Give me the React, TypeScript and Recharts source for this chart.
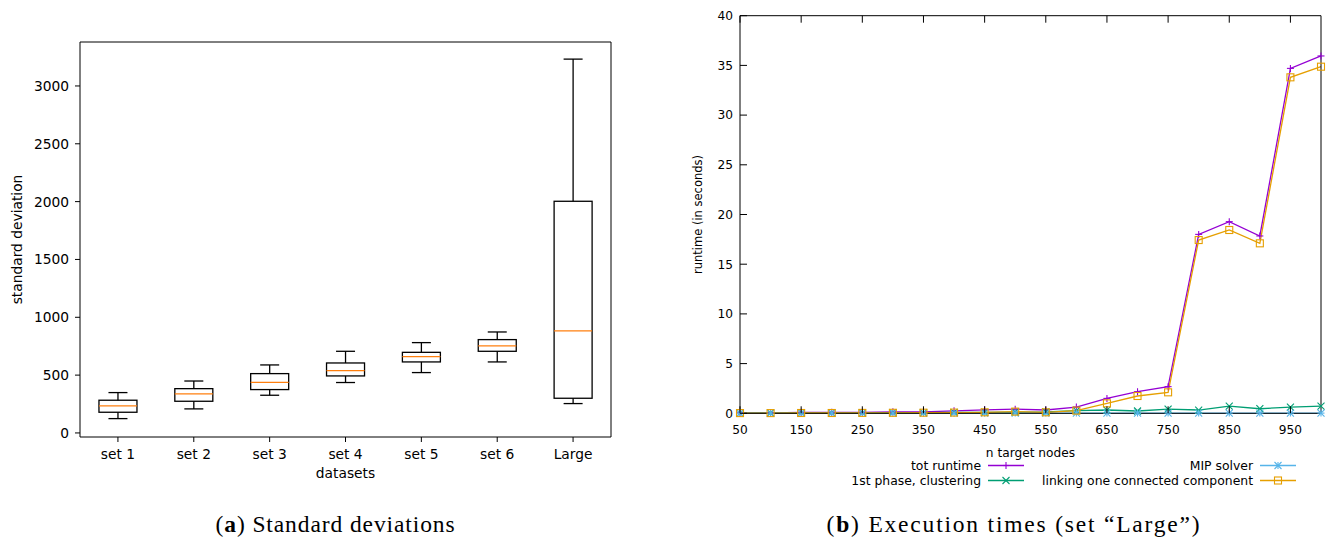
import React from "react";
import { ComposedChart, Bar, XAxis, YAxis, LineChart, Line, Legend } from "recharts";

// (a) standard deviations per dataset, box plot statistics
const datasets = ["set 1", "set 2", "set 3", "set 4", "set 5", "set 6", "Large"];
const whiskerLow = [124, 208, 326, 436, 522, 614, 254];
const quartile1 = [179, 274, 375, 493, 614, 706, 300];
const medians = [234, 337, 438, 539, 660, 752, 882];
const quartile3 = [283, 383, 513, 605, 697, 807, 2003];
const whiskerHigh = [349, 449, 588, 706, 781, 873, 3232];
const sdTicks = [0, 500, 1000, 1500, 2000, 2500, 3000];

// (b) execution times for set "Large"
const nodeCounts = [50, 100, 150, 200, 250, 300, 350, 400, 450, 500, 550, 600, 650, 700, 750, 800, 850, 900, 950, 1000];
const totRuntime = [0.05, 0.05, 0.1, 0.1, 0.1, 0.15, 0.15, 0.25, 0.35, 0.42, 0.33, 0.63, 1.5, 2.17, 2.68, 18.0, 19.28, 17.84, 34.7, 35.95];
const clustering = [0.02, 0.03, 0.04, 0.05, 0.05, 0.06, 0.07, 0.08, 0.1, 0.12, 0.15, 0.27, 0.33, 0.23, 0.43, 0.33, 0.73, 0.46, 0.63, 0.73];
const mipSolver = [0.01, 0.01, 0.01, 0.01, 0.01, 0.01, 0.01, 0.01, 0.01, 0.02, 0.02, 0.02, 0.02, 0.02, 0.02, 0.02, 0.02, 0.02, 0.02, 0.02];
const linking = [0.02, 0.02, 0.03, 0.03, 0.04, 0.05, 0.06, 0.07, 0.1, 0.17, 0.1, 0.27, 1.0, 1.74, 2.11, 17.43, 18.44, 17.1, 33.8, 34.87];
const nodeTicks = [50, 150, 250, 350, 450, 550, 650, 750, 850, 950];
const runtimeTicks = [0, 5, 10, 15, 20, 25, 30, 35, 40];

const boxRows = datasets.map((name, i) => ({
  name,
  low: whiskerLow[i],
  q1: quartile1[i],
  median: medians[i],
  q3: quartile3[i],
  high: whiskerHigh[i],
}));

const runtimeRows = nodeCounts.map((n, i) => ({
  n,
  tot: totRuntime[i],
  clustering: clustering[i],
  mip: mipSolver[i],
  linking: linking[i],
}));

const series = [
  { key: "tot", name: "tot runtime", color: "#9400d3", marker: "plus" },
  { key: "clustering", name: "1st phase, clustering", color: "#009e73", marker: "cross" },
  { key: "mip", name: "MIP solver", color: "#56b4e9", marker: "star" },
  { key: "linking", name: "linking one connected component", color: "#e69f00", marker: "square" },
];

const SANS = "'DejaVu Sans', sans-serif";

function BoxShape(props: any) {
  const { x, y, width, height, payload } = props;
  const { low, q1, median, q3, high } = payload;
  const py = (v: number) => y + (height * (high - v)) / (high - low);
  const cx = x + width / 2;
  const cap = width / 4;
  const s = { stroke: "#000", strokeWidth: 1.3 };
  return (
    <g>
      <line x1={cx} x2={cx} y1={py(high)} y2={py(q3)} {...s} />
      <line x1={cx} x2={cx} y1={py(q1)} y2={py(low)} {...s} />
      <line x1={cx - cap} x2={cx + cap} y1={py(high)} y2={py(high)} {...s} />
      <line x1={cx - cap} x2={cx + cap} y1={py(low)} y2={py(low)} {...s} />
      <rect x={x} y={py(q3)} width={width} height={py(q1) - py(q3)} fill="none" {...s} />
      <line x1={x} x2={x + width} y1={py(median)} y2={py(median)} stroke="#ff7f0e" strokeWidth={1.3} />
    </g>
  );
}

function Marker({ kind, cx, cy, color }: { kind: string; cx: number; cy: number; color: string }) {
  const r = 3.5;
  const p = { stroke: color, strokeWidth: 1.1, fill: "none" };
  const plus = [
    <line key="h" x1={cx - r} x2={cx + r} y1={cy} y2={cy} {...p} />,
    <line key="v" x1={cx} x2={cx} y1={cy - r} y2={cy + r} {...p} />,
  ];
  const cross = [
    <line key="d1" x1={cx - r} x2={cx + r} y1={cy - r} y2={cy + r} {...p} />,
    <line key="d2" x1={cx - r} x2={cx + r} y1={cy + r} y2={cy - r} {...p} />,
  ];
  if (kind === "plus") return <g>{plus}</g>;
  if (kind === "cross") return <g>{cross}</g>;
  if (kind === "star") return <g>{plus}{cross}</g>;
  return <rect x={cx - r} y={cy - r} width={2 * r} height={2 * r} {...p} />;
}

// gnuplot style: ticks point inward, labels outside
const BottomTick = (props: any) => {
  const { x, y, payload } = props;
  return (
    <g>
      <line x1={x} x2={x} y1={y} y2={y - 7} stroke="#000" />
      <text x={x} y={y + 16} dy="0.36em" textAnchor="middle" fontSize={12.2} fontFamily={SANS} fill="#000">
        {payload.value}
      </text>
    </g>
  );
};
const TopTick = (props: any) => {
  const { x, y } = props;
  return <line x1={x} x2={x} y1={y} y2={y + 7} stroke="#000" />;
};
const LeftTick = (props: any) => {
  const { x, y, payload } = props;
  return (
    <g>
      <line x1={x} x2={x + 7} y1={y} y2={y} stroke="#000" />
      <text x={x - 7} y={y} dy="0.36em" textAnchor="end" fontSize={12.2} fontFamily={SANS} fill="#000">
        {payload.value}
      </text>
    </g>
  );
};
const RightTick = (props: any) => {
  const { x, y } = props;
  return <line x1={x} x2={x - 7} y1={y} y2={y} stroke="#000" />;
};

// two columns, filled top to bottom like gnuplot's key
function RuntimeLegend() {
  return (
    <div
      style={{
        display: "grid",
        gridTemplateRows: "15px 15px",
        gridTemplateColumns: "272px 272px",
        gridAutoFlow: "column",
        fontFamily: SANS,
        fontSize: 12.4,
        color: "#000",
      }}
    >
      {series.map((cfg) => (
        <div key={cfg.key} style={{ display: "flex", alignItems: "center", height: 15 }}>
          <span style={{ flex: 1, textAlign: "right", whiteSpace: "nowrap" }}>{cfg.name}</span>
          <svg width={36} height={15} style={{ marginLeft: 7 }}>
            <line x1={0} x2={36} y1={7.5} y2={7.5} stroke={cfg.color} strokeWidth={1.3} />
            <Marker kind={cfg.marker} cx={18} cy={7.5} color={cfg.color} />
          </svg>
        </div>
      ))}
    </div>
  );
}

export default function App() {
  const caption: React.CSSProperties = {
    position: "absolute",
    top: 513,
    fontFamily: "'Liberation Serif', serif",
    fontSize: 23.5,
    lineHeight: "23.5px",
    letterSpacing: 0.9,
    whiteSpace: "nowrap",
    textAlign: "center",
    color: "#000",
  };
  return (
    <div style={{ position: "absolute", left: 0, top: 0, width: 1327, height: 538, background: "#fff", fontFamily: SANS }}>
      <div style={{ position: "absolute", left: 0, top: 0 }}>
        <ComposedChart
          width={640}
          height={500}
          data={boxRows}
          margin={{ top: 41, right: 28, bottom: 13, left: 0 }}
          barCategoryGap="25%"
        >
          <XAxis
            dataKey="name"
            height={50}
            tickSize={5}
            tickMargin={7}
            tick={{ fontSize: 13.8, fill: "#000", fontFamily: SANS }}
            stroke="#000"
            label={{ value: "datasets", position: "insideBottom", offset: 9, fontSize: 13.8, fill: "#000", fontFamily: SANS }}
          />
          <XAxis xAxisId="top" dataKey="name" orientation="top" height={1} tick={false} tickLine={false} stroke="#000" />
          <YAxis
            width={80}
            domain={[-35, 3380]}
            allowDataOverflow
            ticks={sdTicks}
            tickSize={5}
            tickMargin={6}
            tick={{ fontSize: 13.8, fill: "#000", fontFamily: SANS }}
            stroke="#000"
            label={{
              value: "standard deviation",
              angle: -90,
              position: "insideLeft",
              offset: 17,
              fontSize: 13.8,
              fill: "#000",
              fontFamily: SANS,
              style: { textAnchor: "middle" },
            }}
          />
          <YAxis yAxisId="right" orientation="right" width={1} domain={[-35, 3380]} tick={false} tickLine={false} stroke="#000" />
          <Bar dataKey={(d: any) => [d.low, d.high]} shape={<BoxShape />} isAnimationActive={false} />
        </ComposedChart>
      </div>

      <div style={{ position: "absolute", left: 640, top: 0 }}>
        <LineChart width={687} height={500} data={runtimeRows} margin={{ top: 14.7, right: 5, bottom: 36.7, left: 0 }}>
          {series.map((s) => (
            <Line
              key={s.key}
              type="linear"
              dataKey={s.key}
              name={s.name}
              stroke={s.color}
              strokeWidth={1.3}
              isAnimationActive={false}
              activeDot={false}
              dot={(p: any) => <Marker key={`${s.key}-${p.index}`} kind={s.marker} cx={p.cx} cy={p.cy} color={s.color} />}
            />
          ))}
          <XAxis
            dataKey="n"
            type="number"
            domain={[50, 1000]}
            ticks={nodeTicks}
            height={50}
            tickSize={0}
            tickMargin={0}
            tickLine={false}
            tick={<BottomTick />}
            stroke="#000"
            label={{ value: "n target nodes", position: "insideTop", offset: 35, fontSize: 12.2, fill: "#000", fontFamily: SANS }}
          />
          <XAxis
            xAxisId="top"
            dataKey="n"
            type="number"
            orientation="top"
            domain={[50, 1000]}
            ticks={nodeTicks}
            height={1}
            tickSize={0}
            tickMargin={0}
            tickLine={false}
            tick={<TopTick />}
            stroke="#000"
          />
          <YAxis
            width={100}
            domain={[0, 40]}
            ticks={runtimeTicks}
            tickSize={0}
            tickMargin={0}
            tickLine={false}
            tick={<LeftTick />}
            stroke="#000"
            label={{
              value: "runtime (in seconds)",
              angle: -90,
              position: "insideLeft",
              offset: 57.5,
              fontSize: 11.5,
              fill: "#000",
              fontFamily: SANS,
              style: { textAnchor: "middle" },
            }}
          />
          <YAxis
            yAxisId="right"
            orientation="right"
            width={1}
            domain={[0, 40]}
            ticks={runtimeTicks}
            tickSize={0}
            tickMargin={0}
            tickLine={false}
            tick={<RightTick />}
            stroke="#000"
          />
          <Legend
            layout="horizontal"
            verticalAlign="middle"
            align="center"
            content={<RuntimeLegend />}
            wrapperStyle={{ position: "absolute", left: 112, top: 457.5, width: 544, height: 30 }}
          />
        </LineChart>
      </div>

      <div style={{ ...caption, left: 135.5, width: 400 }}>
        (<b>a</b>) Standard deviations
      </div>
      <div style={{ ...caption, left: 814, width: 400, letterSpacing: 1.8 }}>
        (<b>b</b>) Execution times (set “Large”)
      </div>
    </div>
  );
}
